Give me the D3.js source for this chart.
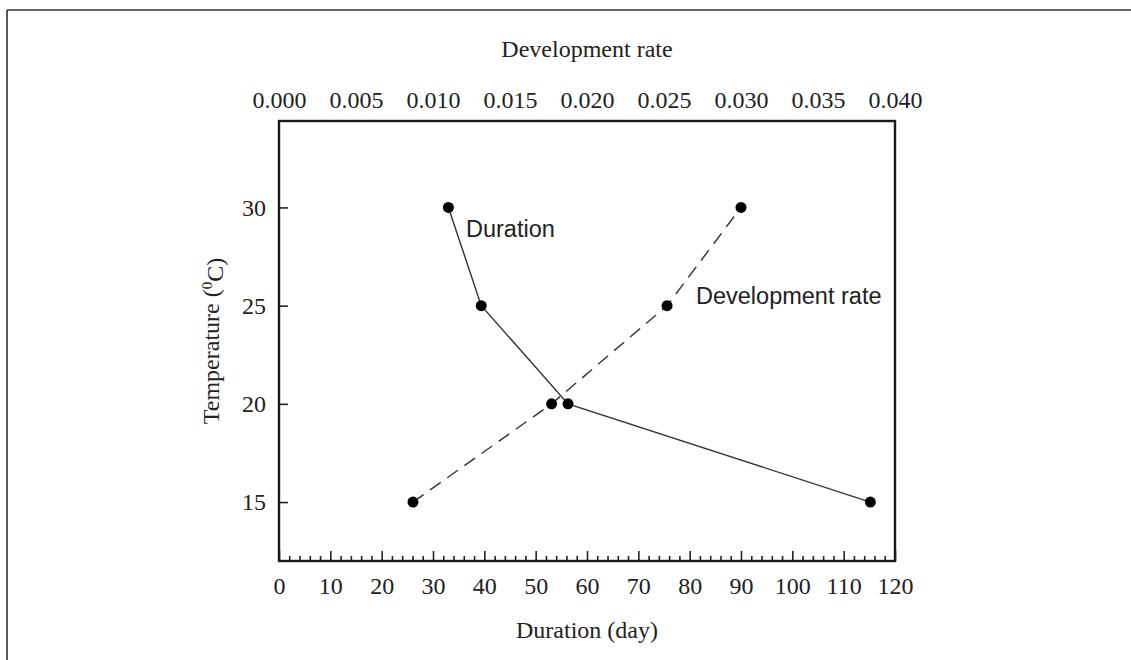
<!DOCTYPE html>
<html>
<head>
<meta charset="utf-8">
<script src="https://cdn.jsdelivr.net/npm/d3@7"></script>
<style>
  html, body { margin: 0; padding: 0; background: #fff; }
  svg { display: block; }
  .serif { font-family: "Liberation Serif", "Times New Roman", serif; fill: #222; }
  .sans { font-family: "Liberation Sans", Arial, sans-serif; fill: #222; }
</style>
</head>
<body>
<svg id="chart" width="1131" height="660"></svg>
<script>
// Rearing temperatures (°C)
const temperatures = [15, 20, 25, 30];
// Development duration (days) at each temperature
const durationDays = [115.2, 56.3, 39.4, 33.0];
// Development rate (1/day) at each temperature
const developmentRate = [0.0087, 0.0177, 0.0252, 0.0300];

// Tick values
const durationTicks = [0, 10, 20, 30, 40, 50, 60, 70, 80, 90, 100, 110, 120];
const durationMinorTicks = d3.range(0, 121, 2).filter(v => v % 10 !== 0);
const rateTicks = [0, 0.005, 0.01, 0.015, 0.02, 0.025, 0.03, 0.035, 0.04];
const temperatureTicks = [15, 20, 25, 30];

const svg = d3.select("#chart");
const W = 1131, H = 660;

// Outer frame: top and left rules
svg.append("line").attr("x1", 7).attr("x2", W).attr("y1", 10).attr("y2", 10)
  .attr("stroke", "#333").attr("stroke-width", 1.6);
svg.append("line").attr("x1", 7).attr("x2", 7).attr("y1", 10).attr("y2", H)
  .attr("stroke", "#333").attr("stroke-width", 1.6);

const plot = { left: 279, right: 895, top: 121, bottom: 561 };

const xDur = d3.scaleLinear().domain([0, 120]).range([plot.left, plot.right]);
const xRate = d3.scaleLinear().domain([0, 0.04]).range([plot.left, plot.right]);
const y = d3.scaleLinear().domain([12, 34.4]).range([plot.bottom, plot.top]);

const fontSize = 24;

// Bottom axis: duration, ticks pointing inward
const gBottom = svg.append("g").attr("transform", `translate(0,${plot.bottom})`)
  .call(d3.axisBottom(xDur).tickValues(durationTicks).tickSize(-10).tickPadding(16));
const gBottomMinor = svg.append("g").attr("transform", `translate(0,${plot.bottom})`)
  .call(d3.axisBottom(xDur).tickValues(durationMinorTicks).tickSize(-5).tickFormat(""));

// Top axis: development rate, labels only
const gTop = svg.append("g").attr("transform", `translate(0,${plot.top})`)
  .call(d3.axisTop(xRate).tickValues(rateTicks).tickSize(0).tickPadding(13)
    .tickFormat(d3.format(".3f")));

// Left axis: temperature, ticks pointing inward
const gLeft = svg.append("g").attr("transform", `translate(${plot.left},0)`)
  .call(d3.axisLeft(y).tickValues(temperatureTicks).tickSize(-9).tickPadding(13));

[gBottom, gBottomMinor, gTop, gLeft].forEach(g => {
  g.select(".domain").remove();
  g.selectAll(".tick line").attr("stroke", "#222").attr("stroke-width", 1.6);
  g.selectAll(".tick text").attr("class", "serif")
    .style("font-size", fontSize + "px").attr("fill", "#222");
});

// Plot frame
svg.append("rect")
  .attr("x", plot.left).attr("y", plot.top)
  .attr("width", plot.right - plot.left).attr("height", plot.bottom - plot.top)
  .attr("fill", "none").attr("stroke", "#1a1a1a").attr("stroke-width", 2.4);

// Axis titles
const midX = (plot.left + plot.right) / 2;
svg.append("text").attr("class", "serif").attr("x", midX).attr("y", 57)
  .attr("text-anchor", "middle").style("font-size", fontSize + "px").text("Development rate");
svg.append("text").attr("class", "serif").attr("x", midX).attr("y", 638)
  .attr("text-anchor", "middle").style("font-size", fontSize + "px").text("Duration (day)");
const yTitle = svg.append("text").attr("class", "serif")
  .attr("transform", `translate(219,${(plot.top + plot.bottom) / 2}) rotate(-90)`)
  .attr("text-anchor", "middle").style("font-size", fontSize + "px");
yTitle.append("tspan").text("Temperature (");
yTitle.append("tspan").attr("dy", "-0.45em").style("font-size", "15px").text("0");
yTitle.append("tspan").attr("dy", "0.45em").text("C)");

// Series
const durData = temperatures.map((t, i) => ({ t, v: durationDays[i] }));
const rateData = temperatures.map((t, i) => ({ t, v: developmentRate[i] }));

const durLine = d3.line().x(d => xDur(d.v)).y(d => y(d.t));
const rateLine = d3.line().x(d => xRate(d.v)).y(d => y(d.t));

svg.append("path").datum(rateData).attr("d", rateLine)
  .attr("fill", "none").attr("stroke", "#333").attr("stroke-width", 1.4)
  .attr("stroke-dasharray", "13,8");
svg.append("path").datum(durData).attr("d", durLine)
  .attr("fill", "none").attr("stroke", "#333").attr("stroke-width", 1.4);

svg.selectAll("circle.rate").data(rateData).enter().append("circle")
  .attr("class", "rate").attr("cx", d => xRate(d.v)).attr("cy", d => y(d.t))
  .attr("r", 5.5).attr("fill", "#000");
svg.selectAll("circle.dur").data(durData).enter().append("circle")
  .attr("class", "dur").attr("cx", d => xDur(d.v)).attr("cy", d => y(d.t))
  .attr("r", 5.5).attr("fill", "#000");

// Series labels
svg.append("text").attr("class", "sans").attr("x", 466).attr("y", 237)
  .style("font-size", "23.5px").text("Duration");
svg.append("text").attr("class", "sans").attr("x", 696).attr("y", 304)
  .style("font-size", "23.5px").text("Development rate");
</script>
</body>
</html>
